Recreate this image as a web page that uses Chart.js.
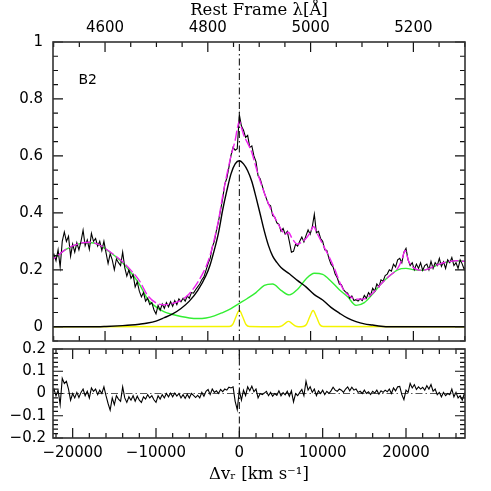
<!DOCTYPE html>
<html>
<head>
<meta charset="utf-8">
<script src="https://cdn.jsdelivr.net/npm/chart.js@4.4.1/dist/chart.umd.min.js"></script>
<style>
  html, body { margin: 0; padding: 0; background: #fff; }
  #wrap { position: relative; width: 491px; height: 491px; }
  #topPanel { position: absolute; left: 0; top: 0; }
  #resPanel { position: absolute; left: 0; top: 335px; }
</style>
</head>
<body>
<div id="wrap">
  <canvas id="topPanel" width="491" height="346"></canvas>
  <canvas id="resPanel" width="491" height="156"></canvas>
</div>
<script>
// axis ranges (velocity in km/s, rest frame wavelength in A)
const C_KMS = 299792.458;
const HBETA = 4861.33;
const V_MIN = -22360, V_MAX = 27080;

// observed spectrum and residuals, every 250 km/s starting at -22500
const SPEC_V0 = -22500, SPEC_DV = 250;
const specFlux = [
  0.240, 0.255, 0.232, 0.270, 0.210, 0.300, 0.333, 0.300,
  0.318, 0.248, 0.290, 0.262, 0.295, 0.270, 0.300, 0.339,
  0.285, 0.305, 0.272, 0.328, 0.300, 0.310, 0.283, 0.300,
  0.268, 0.300, 0.260, 0.222, 0.256, 0.235, 0.200, 0.238,
  0.225, 0.215, 0.262, 0.208, 0.178, 0.200, 0.170, 0.183,
  0.140, 0.158, 0.125, 0.105, 0.120, 0.090, 0.100, 0.078,
  0.085, 0.060, 0.045, 0.075, 0.058, 0.080, 0.065, 0.085,
  0.070, 0.088, 0.072, 0.092, 0.078, 0.098, 0.088, 0.100,
  0.090, 0.108, 0.100, 0.120, 0.118, 0.130, 0.140, 0.150,
  0.165, 0.175, 0.198, 0.222, 0.240, 0.280, 0.300, 0.338,
  0.370, 0.410, 0.450, 0.500, 0.522, 0.560, 0.602, 0.630,
  0.620, 0.625, 0.745, 0.705, 0.690, 0.665, 0.672, 0.630,
  0.635, 0.600, 0.580, 0.530, 0.520, 0.495, 0.470, 0.450,
  0.430, 0.425, 0.390, 0.385, 0.365, 0.360, 0.335, 0.345,
  0.325, 0.335, 0.300, 0.262, 0.265, 0.290, 0.283, 0.300,
  0.315, 0.298, 0.320, 0.340, 0.325, 0.350, 0.395, 0.330,
  0.335, 0.310, 0.300, 0.270, 0.268, 0.240, 0.220, 0.210,
  0.185, 0.172, 0.150, 0.148, 0.130, 0.122, 0.118, 0.100,
  0.108, 0.092, 0.095, 0.090, 0.098, 0.092, 0.110, 0.100,
  0.120, 0.110, 0.135, 0.125, 0.150, 0.140, 0.165, 0.160,
  0.180, 0.185, 0.200, 0.195, 0.220, 0.210, 0.235, 0.240,
  0.225, 0.262, 0.275, 0.235, 0.215, 0.225, 0.200, 0.220,
  0.205, 0.225, 0.198, 0.215, 0.220, 0.200, 0.230, 0.205,
  0.225, 0.215, 0.240, 0.212, 0.228, 0.205, 0.235, 0.225,
  0.243, 0.215, 0.225, 0.205, 0.235, 0.220, 0.200, 0.220
];
const residual = [
  0.000, 0.020, -0.010, 0.015, -0.050, 0.068, 0.045, 0.055,
  0.020, -0.030, 0.000, -0.020, 0.005, -0.018, 0.005, 0.020,
  -0.010, 0.010, -0.020, 0.025, 0.010, 0.020, -0.005, 0.015,
  0.000, 0.030, -0.010, -0.045, -0.075, -0.020, -0.050, -0.010,
  -0.025, -0.035, 0.030, -0.020, -0.040, -0.015, -0.030, -0.010,
  -0.035, -0.012, -0.030, -0.040, -0.015, -0.025, -0.005, -0.020,
  -0.010, -0.028, -0.040, -0.010, -0.025, -0.005, -0.020, 0.000,
  -0.015, 0.002, -0.015, 0.002, -0.012, 0.000, -0.020, -0.005,
  -0.022, -0.003, -0.020, 0.000, -0.008, -0.018, -0.008, -0.020,
  0.005, -0.012, 0.010, 0.018, -0.005, 0.020, 0.005, 0.012,
  0.000, 0.018, 0.008, 0.020, 0.015, 0.028, 0.025, 0.030,
  -0.035, -0.072, 0.015, -0.030, 0.015, -0.010, 0.030, 0.012,
  0.033, 0.008, 0.020, -0.020, 0.000, -0.005, 0.002, 0.010,
  -0.010, 0.005, -0.012, 0.000, -0.008, 0.012, -0.010, 0.004,
  -0.006, 0.010, -0.012, 0.012, -0.038, 0.000, -0.010, 0.005,
  0.018, -0.010, 0.055, 0.015, 0.030, 0.005, 0.020, -0.010,
  0.012, 0.000, 0.015, -0.005, 0.010, 0.000, 0.012, 0.028,
  0.015, 0.010, 0.020, 0.015, 0.005, 0.020, 0.030, 0.012,
  0.028, 0.015, 0.020, 0.005, 0.010, 0.000, 0.015, 0.000,
  0.008, -0.005, 0.010, 0.002, 0.015, -0.003, 0.012, 0.005,
  0.015, 0.008, 0.020, 0.000, 0.025, 0.012, 0.030, 0.032,
  -0.005, -0.028, 0.015, 0.005, 0.045, 0.025, 0.040, 0.018,
  0.030, 0.020, 0.028, 0.015, 0.035, 0.020, 0.040, 0.010,
  0.020, -0.005, 0.005, -0.015, 0.005, -0.010, 0.000, -0.005,
  0.020, -0.015, 0.005, -0.020, -0.010, -0.030, 0.000, -0.020
];

// green component, every 1000 km/s starting at -23000
const FE_V0 = -23000, FE_DV = 1000;
const feFlux = [
  0.225, 0.245, 0.268, 0.283, 0.293, 0.296, 0.290, 0.272,
  0.250, 0.225, 0.190, 0.150, 0.097, 0.070, 0.052, 0.043,
  0.036, 0.031, 0.029, 0.031, 0.038, 0.050, 0.064, 0.082,
  0.100, 0.120, 0.145, 0.150, 0.128, 0.112, 0.132, 0.168,
  0.188, 0.184, 0.160, 0.130, 0.105, 0.075, 0.085, 0.115,
  0.150, 0.178, 0.200, 0.205, 0.200, 0.198, 0.207, 0.220,
  0.228, 0.232, 0.230, 0.228
];

// broad H-beta (black smooth)
const broadV = [-23000, -17000, -16000, -14000, -13000, -12000, -11000, -10000, -9000, -8000,
  -7000, -6000, -5000, -4000, -3500, -3000, -2500, -2000, -1500, -1000,
  -500, 0, 500, 1000, 1500, 2000, 2500, 3000, 3500, 4000,
  4500, 5000, 6000, 7000, 8000, 9000, 10000, 11000, 12000, 13000,
  14000, 15000, 16000, 17000, 18000, 28000];
const broadF = [0, 0, 0.001, 0.004, 0.006, 0.009, 0.013, 0.020, 0.032, 0.045,
  0.064, 0.090, 0.127, 0.180, 0.218, 0.270, 0.330, 0.410, 0.478, 0.537,
  0.572, 0.583, 0.572, 0.548, 0.510, 0.455, 0.396, 0.336, 0.285, 0.248,
  0.226, 0.208, 0.186, 0.162, 0.140, 0.113, 0.094, 0.068, 0.048, 0.030,
  0.018, 0.010, 0.006, 0.002, 0, 0];

// total fit (magenta)
const fitV = [-23000, -22000, -21000, -20000, -19000, -18000, -17000, -16000, -15000, -14000,
  -13000, -12000, -11000, -10000, -9000, -8000, -7000, -6000, -5000, -4000,
  -3500, -3000, -2500, -2000, -1500, -1000, -500, -250, 0, 250,
  500, 1000, 1500, 2000, 2500, 3000, 3500, 4000, 4500, 5000,
  5500, 5900, 6300, 7000, 7500, 8000, 8500, 8900, 9300, 10000,
  11000, 11500, 12000, 12500, 13000, 13500, 14000, 15000, 16000, 17000,
  18000, 19000, 19500, 19900, 20300, 21000, 22000, 23000, 24000, 25000,
  26000, 27000, 28000];
const fitF = [0.225, 0.245, 0.268, 0.284, 0.294, 0.297, 0.290, 0.273, 0.252, 0.228,
  0.198, 0.162, 0.110, 0.084, 0.077, 0.082, 0.093, 0.116, 0.156, 0.211,
  0.252, 0.308, 0.374, 0.460, 0.534, 0.600, 0.655, 0.695, 0.722, 0.700,
  0.675, 0.645, 0.612, 0.560, 0.512, 0.470, 0.432, 0.398, 0.370, 0.343,
  0.325, 0.332, 0.312, 0.290, 0.298, 0.310, 0.330, 0.352, 0.330, 0.290,
  0.232, 0.198, 0.160, 0.130, 0.113, 0.102, 0.097, 0.098, 0.118, 0.150,
  0.178, 0.205, 0.235, 0.268, 0.232, 0.205, 0.198, 0.207, 0.220, 0.228,
  0.232, 0.230, 0.228];

// narrow lines (yellow): H-beta, [OIII] 4959, [OIII] 5007
const narrowV = [-23000, -1200, -800, -400, 0, 400, 800, 1200,
  4700, 5100, 5500, 5900, 6300, 6700, 7100,
  7650, 8050, 8450, 8850, 9250, 9650, 10050, 28000];
const narrowF = [0, 0.001, 0.008, 0.035, 0.058, 0.035, 0.008, 0.001,
  0, 0.003, 0.012, 0.019, 0.012, 0.003, 0,
  0.001, 0.008, 0.035, 0.057, 0.035, 0.008, 0.001, 0];

const lamTicks = [4600, 4800, 5000, 5200];
const vTicks = [-20000, -10000, 0, 10000, 20000];
const yTicksTop = [0, 0.2, 0.4, 0.6, 0.8, 1];
const yTicksRes = [-0.2, -0.1, 0, 0.1, 0.2];

const LAM_MIN = HBETA * (1 + V_MIN / C_KMS);
const LAM_MAX = HBETA * (1 + V_MAX / C_KMS);

const pts = (xs, ys) => xs.map((x, i) => ({ x: x, y: ys[i] }));
const grid = (v0, dv, ys) => ys.map((y, i) => ({ x: v0 + i * dv, y: y }));
const fmt = v => { const s = String(+v.toFixed(2)); return s.replace('-', '\u2212'); };

const tickFont = { family: '"DejaVu Sans"', size: 15 };
const titleFont = { family: '"DejaVu Serif"', size: 16.5 };

// keep the chart area where it is: no extra room for the end labels
const noPad = s => { s.paddingTop = 0; s.paddingBottom = 0; s.paddingLeft = 0; s.paddingRight = 0; };

// frame with inward ticks on all four sides
const frameTicks = {
  id: 'frameTicks',
  afterDraw(chart, args, o) {
    const ctx = chart.ctx, a = chart.chartArea;
    const hs = chart.scales[o.hScale], vs = chart.scales[o.vScale];
    const each = (s, step, big, fn) => {
      for (let k = Math.ceil(s.min / step - 1e-9); k * step <= s.max + 1e-9; k++) {
        const r = k * step / big;
        fn(s.getPixelForValue(k * step), Math.abs(r - Math.round(r)) < 1e-6 ? 10 : 5);
      }
    };
    ctx.save();
    ctx.strokeStyle = '#111';
    ctx.lineWidth = 1.2;
    ctx.beginPath();
    each(hs, o.hMinor, o.hMajor, (p, L) => {
      ctx.moveTo(p, a.top); ctx.lineTo(p, a.top + L);
      ctx.moveTo(p, a.bottom); ctx.lineTo(p, a.bottom - L);
    });
    each(vs, o.vMinor, o.vMajor, (p, L) => {
      ctx.moveTo(a.left, p); ctx.lineTo(a.left + L, p);
      ctx.moveTo(a.right, p); ctx.lineTo(a.right - L, p);
    });
    ctx.stroke();
    ctx.lineWidth = 1.6;
    ctx.strokeStyle = '#333';
    ctx.strokeRect(a.left, a.top, a.right - a.left, a.bottom - a.top);
    if (o.label) {
      ctx.fillStyle = '#000';
      ctx.font = '14px "DejaVu Sans"';
      ctx.textBaseline = 'middle';
      ctx.fillText(o.label, chart.scales.x.getPixelForValue(o.labelAt[0]), vs.getPixelForValue(o.labelAt[1]));
    }
    ctx.restore();
  }
};

const plain = { grid: { display: false, drawTicks: false }, border: { display: false } };

new Chart(document.getElementById('topPanel'), {
  type: 'line',
  data: {
    datasets: [
      { data: pts([0, 0], [-0.05, 1]), borderColor: '#000', borderWidth: 1, borderDash: [7, 3, 1.5, 3], order: 0 },
      { data: pts(fitV, fitF), borderColor: '#ee22ee', borderWidth: 1.4, borderDash: [10, 3], cubicInterpolationMode: 'monotone', order: 1 },
      { data: grid(SPEC_V0, SPEC_DV, specFlux), borderColor: '#000', borderWidth: 1.1, order: 2 },
      { data: pts(broadV, broadF), borderColor: '#000', borderWidth: 1.4, cubicInterpolationMode: 'monotone', order: 3 },
      { data: pts(narrowV, narrowF), borderColor: '#f4f400', borderWidth: 1.4, cubicInterpolationMode: 'monotone', order: 4 },
      { data: grid(FE_V0, FE_DV, feFlux), borderColor: '#33ee33', borderWidth: 1.4, cubicInterpolationMode: 'monotone', order: 5 }
    ]
  },
  options: {
    responsive: false, animation: false, devicePixelRatio: 1,
    layout: { autoPadding: false, padding: { left: 0, right: 26, top: 0, bottom: 5 } },
    elements: { point: { radius: 0 } },
    plugins: {
      legend: { display: false }, tooltip: { enabled: false },
      frameTicks: { hScale: 'xl', hMinor: 50, hMajor: 200, vScale: 'y', vMinor: 0.05, vMajor: 0.2, label: 'B2', labelAt: [-19300, 0.866] }
    },
    scales: {
      x: { type: 'linear', display: false, min: V_MIN, max: V_MAX },
      xl: {
        type: 'linear', position: 'top', min: LAM_MIN, max: LAM_MAX, ...plain,
        afterBuildTicks: s => { s.ticks = lamTicks.map(v => ({ value: v })); },
        afterFit: s => { s.height = 42; noPad(s); },
        ticks: { padding: 5, color: '#000', font: tickFont, maxRotation: 0, autoSkip: false, callback: v => String(v) },
        title: { display: true, text: 'Rest Frame \u03bb[\u00c5]', color: '#000', font: titleFont, padding: { top: 1, bottom: 0 } }
      },
      y: {
        type: 'linear', min: -0.05, max: 1, ...plain,
        afterBuildTicks: s => { s.ticks = yTicksTop.map(v => ({ value: v })); },
        afterFit: s => { s.width = 53; noPad(s); },
        ticks: { padding: 10, color: '#000', font: tickFont, callback: fmt }
      }
    }
  },
  plugins: [frameTicks]
});

new Chart(document.getElementById('resPanel'), {
  type: 'line',
  data: {
    datasets: [
      { data: pts([0, 0], [-0.2, 0.2]), borderColor: '#000', borderWidth: 1, borderDash: [7, 3, 1.5, 3], order: 1 },
      { data: pts([V_MIN, V_MAX], [0, 0]), borderColor: '#555', borderWidth: 1, borderDash: [7, 3, 1.5, 3], order: 2 },
      { data: grid(SPEC_V0, SPEC_DV, residual), borderColor: '#000', borderWidth: 1.1, order: 0 }
    ]
  },
  options: {
    responsive: false, animation: false, devicePixelRatio: 1,
    layout: { autoPadding: false, padding: { left: 0, right: 26, top: 14, bottom: 0 } },
    elements: { point: { radius: 0 } },
    plugins: {
      legend: { display: false }, tooltip: { enabled: false },
      frameTicks: { hScale: 'x', hMinor: 2000, hMajor: 10000, vScale: 'y', vMinor: 0.02, vMajor: 0.1 }
    },
    scales: {
      x: {
        type: 'linear', min: V_MIN, max: V_MAX, ...plain,
        afterBuildTicks: s => { s.ticks = vTicks.map(v => ({ value: v })); },
        afterFit: s => { s.height = 53; noPad(s); },
        ticks: { padding: 6, color: '#000', font: tickFont, maxRotation: 0, autoSkip: false,
          callback: v => v < 0 ? '\u2212' + Math.abs(v) : String(v) },
        title: { display: true, text: '\u0394v\u1d63 [km s\u207b\u00b9]', color: '#000', font: titleFont, padding: { top: 0, bottom: 6 } }
      },
      y: {
        type: 'linear', min: -0.2, max: 0.2, ...plain,
        afterBuildTicks: s => { s.ticks = yTicksRes.map(v => ({ value: v })); },
        afterFit: s => { s.width = 53; noPad(s); },
        ticks: { padding: 7, color: '#000', font: tickFont, callback: fmt }
      }
    }
  },
  plugins: [frameTicks]
});
</script>
</body>
</html>
